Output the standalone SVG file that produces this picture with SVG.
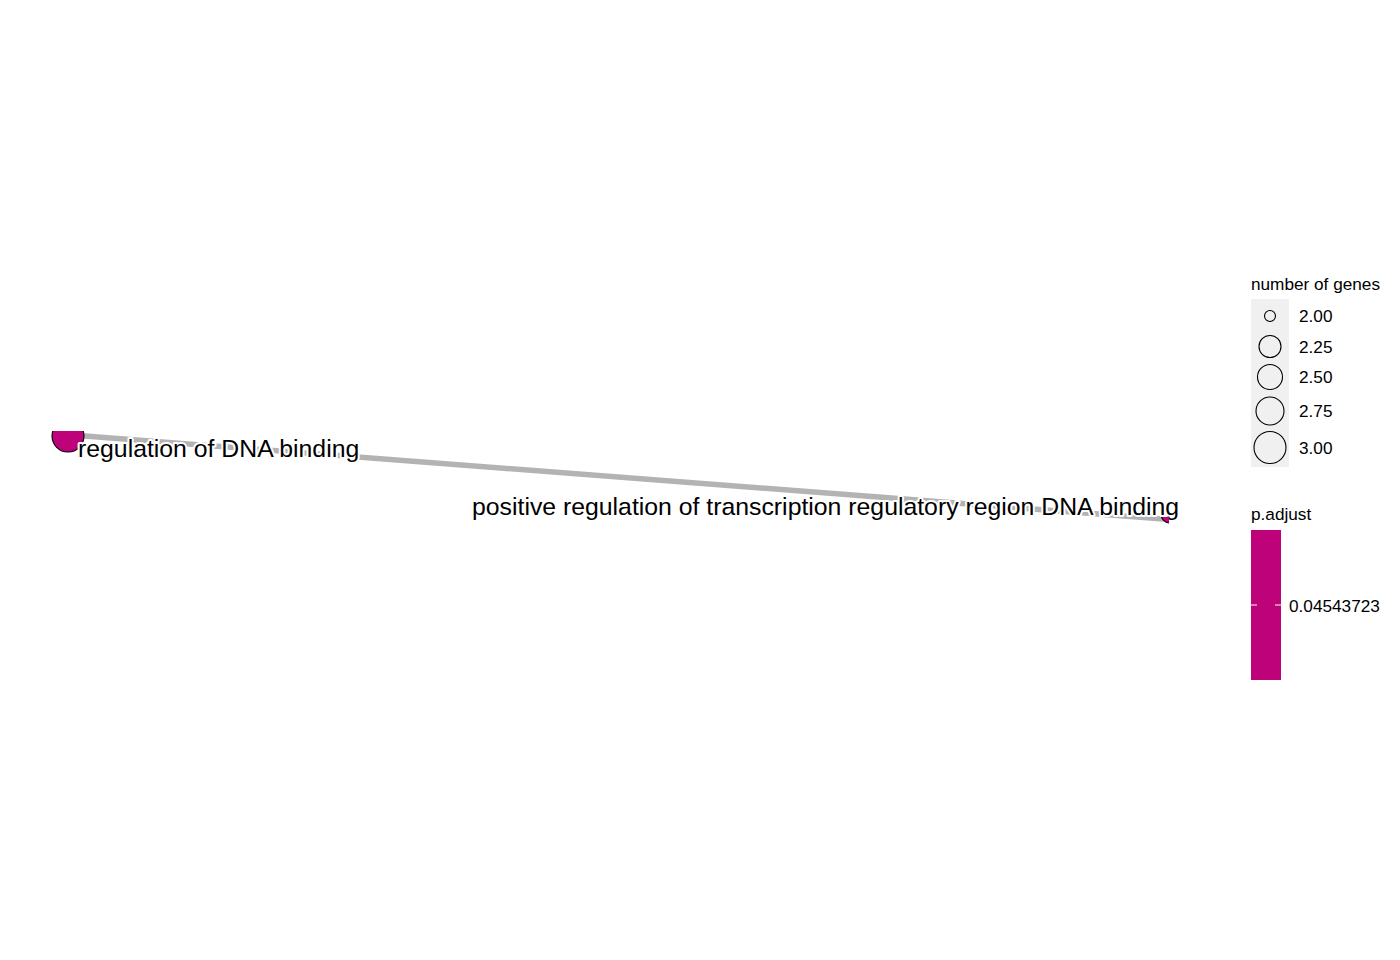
<svg xmlns="http://www.w3.org/2000/svg" width="1400" height="960" viewBox="0 0 1400 960">
<style>
.lbl{font-family:"Liberation Sans",Arial,sans-serif;font-size:24.8px;fill:#000;stroke:#fff;stroke-width:4;paint-order:stroke;stroke-linejoin:round}
.leg{font-family:"Liberation Sans",Arial,sans-serif;font-size:17.2px;fill:#000}
.key{fill:none;stroke:#000;stroke-width:1.1}
.node{fill:#BE037A;stroke:#000;stroke-width:1.1}
</style>
<defs>
<clipPath id="c1"><rect x="40" y="431" width="60" height="40"/></clipPath>
<clipPath id="c2"><rect x="1150" y="517" width="19" height="15"/></clipPath>
</defs>
<rect width="1400" height="960" fill="#fff"/>
<g id="edges">
<line x1="72" y1="435" x2="1170" y2="519.5" stroke="#B3B3B3" stroke-width="5.5"/>
</g>
<g id="node-regulation-of-dna-binding">
<circle class="node" cx="68" cy="436" r="16" clip-path="url(#c1)"/>
<text class="lbl" x="78" y="457">regulation of DNA binding</text>
</g>
<g id="node-positive-regulation">
<text class="lbl" x="472" y="515">positive regulation of transcription regulatory region DNA binding</text>
<circle class="node" cx="1170" cy="514" r="9" clip-path="url(#c2)"/>
</g>
<g id="legend-size">
<text class="leg" x="1251" y="290">number of genes</text>
<rect x="1251" y="299" width="38" height="168" fill="#F0F0F0"/>
<circle class="key" cx="1270" cy="316" r="5.5"/>
<circle class="key" cx="1270" cy="346.5" r="11"/>
<circle class="key" cx="1270" cy="377" r="12.5"/>
<circle class="key" cx="1270" cy="411" r="14"/>
<circle class="key" cx="1270" cy="447.5" r="16"/>
<text class="leg" x="1299" y="322">2.00</text>
<text class="leg" x="1299" y="352.5">2.25</text>
<text class="leg" x="1299" y="383">2.50</text>
<text class="leg" x="1299" y="417">2.75</text>
<text class="leg" x="1299" y="453.5">3.00</text>
</g>
<g id="legend-color">
<text class="leg" x="1251" y="520">p.adjust</text>
<rect x="1251" y="530" width="30" height="150" fill="#BE037A"/>
<line x1="1251" y1="605" x2="1257" y2="605" stroke="#fff" stroke-width="1"/>
<line x1="1275" y1="605" x2="1281" y2="605" stroke="#fff" stroke-width="1"/>
<text class="leg" x="1289" y="612">0.04543723</text>
</g>
</svg>
